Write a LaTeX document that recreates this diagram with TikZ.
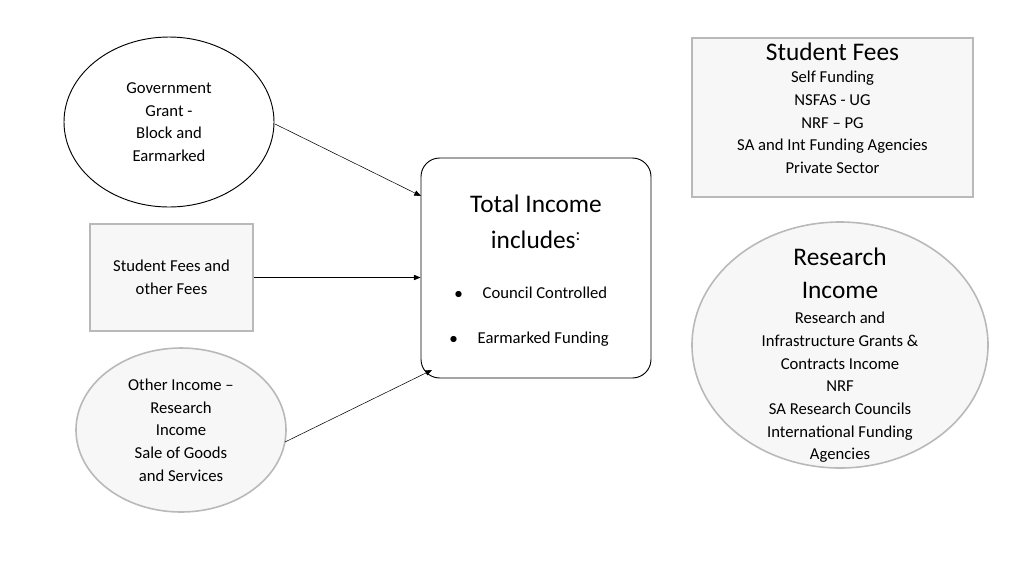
\documentclass[tikz,border=0pt]{standalone}
\usepackage{fontspec}
\setmainfont{Carlito}
\usetikzlibrary{shapes.geometric,arrows.meta}
\begin{document}
\begin{tikzpicture}[x=0.75pt,y=-0.75pt]

\tikzset{plain/.style={draw=black,fill=white,line width=0.7pt,align=center,font=\fontsize{12.5}{17}\selectfont},
soft/.style={draw=gray!55,fill=gray!6,line width=1.2pt,align=center,font=\fontsize{12.5}{17}\selectfont},
oval/.style={ellipse,inner sep=0pt},
link/.style={-{Triangle[length=5pt,width=4pt]},line width=0.4pt}}

\useasboundingbox (0,0) rectangle (1024,576);

% left column
\node[plain,oval,minimum width=157.5pt,minimum height=127.5pt] (grant) at (169,122) {Government\\Grant -\\Block and\\Earmarked};
\node[soft,minimum width=122pt,minimum height=80pt] (fees) at (171.5,277.5) {Student Fees and\\other Fees};
\node[soft,oval,minimum width=157.5pt,minimum height=123pt] (other) at (181,430) {Other Income --\\Research\\Income\\Sale of Goods\\and Services};

% centre
\node[plain,rounded corners=14pt,minimum width=172.5pt,minimum height=165pt] (total) at (536,268) {};
\node[font=\fontsize{19}{27}\selectfont,align=center] (title) at (536,222) {Total Income\\includes\textsuperscript{:}};
\node[font=\fontsize{12.5}{17}\selectfont,anchor=west] (cc) at (450,293) {$\bullet$\hspace{1.2em}Council Controlled};
\node[font=\fontsize{12.5}{17}\selectfont,anchor=west] (ef) at (445,339) {$\bullet$\hspace{1.2em}Earmarked Funding};

% right column
\node[soft,minimum width=211pt,minimum height=119pt] (sfees) at (832.5,117.5) {};
\node[font=\fontsize{12.5}{17}\selectfont,align=center] (sfeest) at (832.5,108) {{\fontsize{19}{22}\selectfont Student Fees}\\Self Funding\\NSFAS - UG\\NRF -- PG\\SA and Int Funding Agencies\\Private Sector};
\node[soft,oval,minimum width=222pt,minimum height=184.5pt] (research) at (840,345) {};
\node[font=\fontsize{12.5}{17}\selectfont,align=center] (researcht) at (840,355) {{\fontsize{19}{22}\selectfont Research}\\[8pt]{\fontsize{19}{22}\selectfont Income}\\[2pt]Research and\\Infrastructure Grants \&\\Contracts Income\\NRF\\SA Research Councils\\International Funding\\Agencies};

% connectors
\draw[link] (275,124) -- (421,196);
\draw[link] (fees.east) -- (fees.east -| total.west);
\draw[link] (285,442) -- (432,370);

\end{tikzpicture}
\end{document}
